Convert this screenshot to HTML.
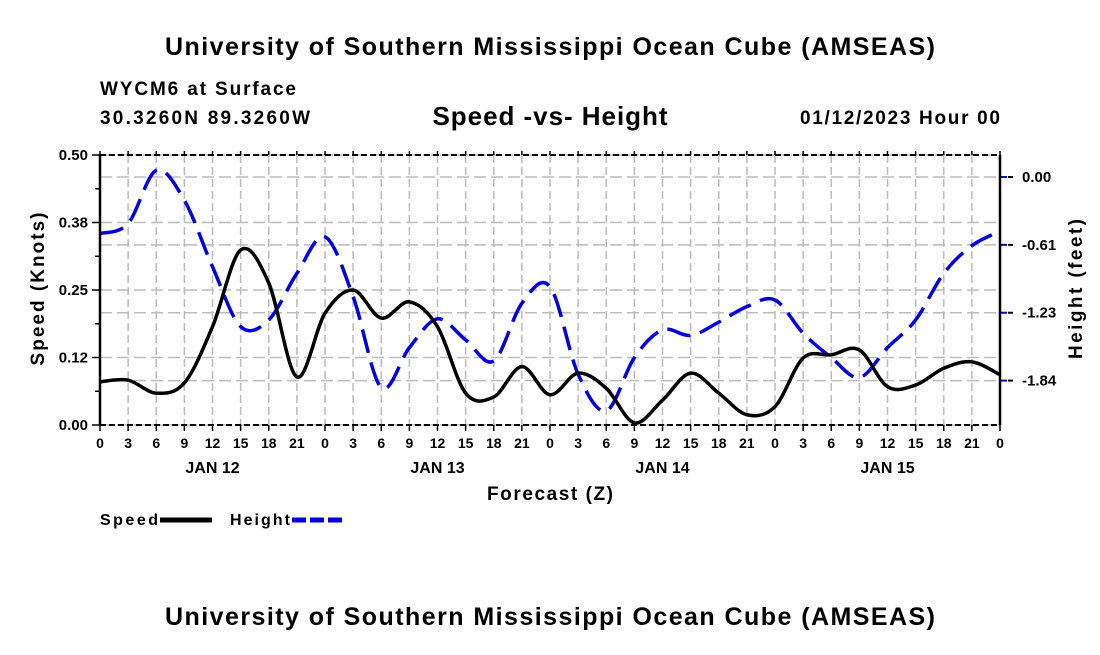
<!DOCTYPE html>
<html><head><meta charset="utf-8"><style>
body{margin:0;background:#fff;}
svg text{font-family:"Liberation Sans",sans-serif;font-weight:bold;}
</style></head><body>
<svg id="chart" width="1100" height="650" viewBox="0 0 1100 650">
<text x="550" y="55" font-size="25" text-anchor="middle" textLength="770">University of Southern Mississippi Ocean Cube (AMSEAS)</text>
<text x="100" y="95" font-size="19" textLength="196">WYCM6 at Surface</text>
<text x="100" y="124" font-size="19" textLength="210">30.3260N  89.3260W</text>
<text x="550" y="125" font-size="26" text-anchor="middle" textLength="235">Speed -vs- Height</text>
<text x="1000" y="124" font-size="19" text-anchor="end" textLength="200">01/12/2023 Hour 00</text>
<g id="grid"></g>
<g id="series"></g>
<g id="axes"></g>
<text transform="translate(44,289) rotate(-90)" font-size="19" text-anchor="middle" textLength="153">Speed (Knots)</text>
<text transform="translate(1082,289) rotate(-90)" font-size="19" text-anchor="middle" textLength="140">Height (feet)</text>
<text x="550" y="500" font-size="19" text-anchor="middle" textLength="126">Forecast (Z)</text>
<g><text x="100" y="525" font-size="16" textLength="58">Speed</text><line x1="160" y1="520" x2="212" y2="520" stroke="#000" stroke-width="5"/></g>
<g><text x="230" y="525" font-size="16" textLength="60">Height</text><line x1="292" y1="520" x2="342" y2="520" stroke="#0000dd" stroke-width="5" stroke-dasharray="14,4"/></g>
<text x="550" y="625" font-size="25" text-anchor="middle" textLength="770">University of Southern Mississippi Ocean Cube (AMSEAS)</text>
</svg>
<script>
const hours=[0,3,6,9,12,15,18,21,24,27,30,33,36,39,42,45,48,51,54,57,60,63,66,69,72,75,78,81,84,87,90,93,96];
const speed=[0.080,0.083,0.059,0.078,0.182,0.324,0.263,0.089,0.207,0.25,0.198,0.228,0.182,0.059,0.052,0.108,0.056,0.096,0.068,0.004,0.046,0.096,0.059,0.019,0.034,0.124,0.13,0.139,0.071,0.074,0.105,0.117,0.093];
const height=[-0.51,-0.42,0.06,-0.21,-0.81,-1.35,-1.29,-0.87,-0.54,-1.08,-1.90,-1.54,-1.28,-1.47,-1.66,-1.14,-0.99,-1.78,-2.11,-1.63,-1.38,-1.43,-1.31,-1.17,-1.11,-1.41,-1.63,-1.81,-1.54,-1.29,-0.87,-0.62,-0.49];
const speedTicks=[0,0.125,0.25,0.375,0.5];
const speedTickLabels=["0.00","0.12","0.25","0.38","0.50"];
const heightTicks=[0,-0.6125,-1.225,-1.8375];
const heightTickLabels=["0.00","-0.61","-1.23","-1.84"];
const dayLabels=["JAN 12","JAN 13","JAN 14","JAN 15"];
const L=100,R=1000,T=155,B=425;
const xS=h=>L+h*(R-L)/96;
const yS=v=>B-v*(B-T)/0.5;
const yH=v=>177-v*110.8;
const NS="http://www.w3.org/2000/svg";
function mk(tag,attrs,parent){const e=document.createElementNS(NS,tag);for(const k in attrs)e.setAttribute(k,attrs[k]);parent.appendChild(e);return e;}
const grid=document.getElementById('grid'),axes=document.getElementById('axes'),series=document.getElementById('series');
for(let h=0;h<=96;h+=3){
 const x=xS(h);
 const g=mk('line',{x1:x,y1:T,x2:x,y2:B,stroke:'#bbb','stroke-width':1.5,'stroke-dasharray':'8,4'},grid);
 
 
 mk('line',{x1:x,y1:B,x2:x,y2:B+6,stroke:'#000','stroke-width':1.5},axes);
 mk('line',{x1:x,y1:T,x2:x,y2:T-4,stroke:'#000','stroke-width':1.5},axes);
 const t=mk('text',{x:x,y:448,'font-size':14,'text-anchor':'middle'},axes);
 t.textContent=String(h%24);
 
 
}
dayLabels.forEach((d,i)=>{const t=mk('text',{x:xS(12+24*i),y:473,'font-size':16,'text-anchor':'middle'},axes);t.textContent=d;
 
 });
speedTicks.forEach((v,i)=>{const y=yS(v);
 const g=mk('line',{x1:L,y1:y,x2:R,y2:y,stroke:'#bbb','stroke-width':1.5,'stroke-dasharray':'12,5'},grid);
 
 
 mk('line',{x1:L-8,y1:y,x2:L,y2:y,stroke:'#000','stroke-width':1.5},axes);
 const t=mk('text',{x:L-12,y:y+5,'font-size':15,'text-anchor':'end'},axes);t.textContent=speedTickLabels[i];
 
 
 if(i<4) mk('line',{x1:L-5,y1:yS(v+0.0625),x2:L,y2:yS(v+0.0625),stroke:'#000','stroke-width':1.5},axes);
});
heightTicks.forEach((v,i)=>{const y=yH(v);
 const g=mk('line',{x1:L,y1:y,x2:R,y2:y,stroke:'#bbb','stroke-width':1.5,'stroke-dasharray':'12,5'},grid);
 
 
 mk('line',{x1:R,y1:y,x2:R+7,y2:y,stroke:'#0000dd','stroke-width':2},axes);
 mk('line',{x1:R+8,y1:y,x2:R+13,y2:y,stroke:'#000','stroke-width':2},axes);
 const t=mk('text',{x:R+22,y:y+5,'font-size':15},axes);t.textContent=heightTickLabels[i];
 
 
});
mk('line',{x1:L,y1:T,x2:L,y2:B,stroke:'#000','stroke-width':2.5},axes);
mk('line',{x1:R,y1:T,x2:R,y2:B,stroke:'#000','stroke-width':2.5},axes);
mk('line',{x1:L,y1:B,x2:R,y2:B,stroke:'#000','stroke-width':2,'stroke-dasharray':'6,3'},axes);
mk('line',{x1:L,y1:T,x2:R,y2:T,stroke:'#000','stroke-width':2,'stroke-dasharray':'6,3'},axes);
function path(pts){let d=`M${pts[0][0]},${pts[0][1]}`;
 for(let i=0;i<pts.length-1;i++){const p0=pts[Math.max(0,i-1)],p1=pts[i],p2=pts[i+1],p3=pts[Math.min(pts.length-1,i+2)];
  d+=` C${p1[0]+(p2[0]-p0[0])/6},${p1[1]+(p2[1]-p0[1])/6} ${p2[0]-(p3[0]-p1[0])/6},${p2[1]-(p3[1]-p1[1])/6} ${p2[0]},${p2[1]}`;}
 return d;}
const hp=mk('path',{d:path(hours.map((h,i)=>[xS(h),yH(height[i])])),fill:'none',stroke:'#0000dd','stroke-width':3.5,'stroke-dasharray':'24,10'},series);


const sp=mk('path',{d:path(hours.map((h,i)=>[xS(h),yS(speed[i])])),fill:'none',stroke:'#000','stroke-width':3.5},series);


</script>
</body></html>
